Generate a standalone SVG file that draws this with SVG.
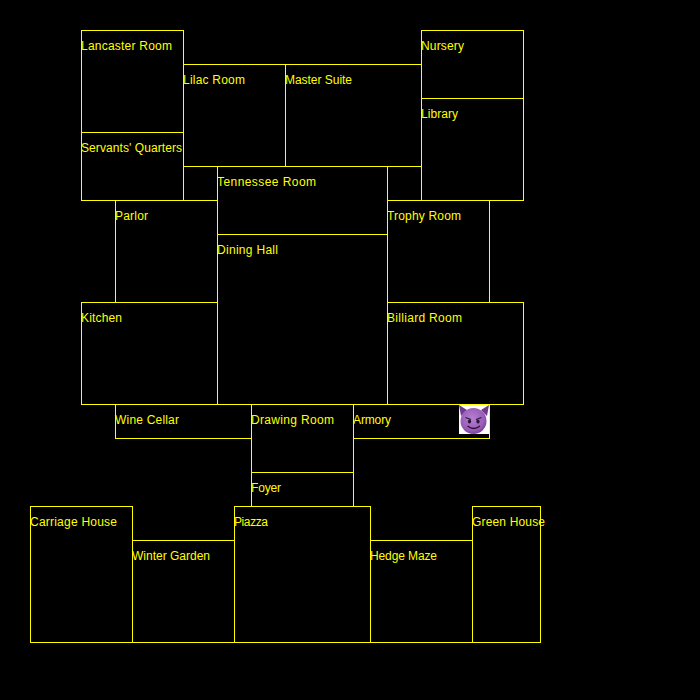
<svg xmlns="http://www.w3.org/2000/svg" width="700" height="700" viewBox="0 0 700 700">
<style>
rect.r{fill:none;stroke:#ffff00;stroke-width:1;shape-rendering:crispEdges}
text{fill:#ffff00;font-family:"Liberation Sans",Arial,sans-serif;font-size:12px}
</style>
<defs>
<radialGradient id="face" cx="0.45" cy="0.4" r="0.65"><stop offset="0" stop-color="#b57fd0"/><stop offset="0.7" stop-color="#9a5cb8"/><stop offset="1" stop-color="#6f3a8e"/></radialGradient>
</defs>
<rect width="700" height="700" fill="#000"/>
<g id="lancaster"><rect class="r" x="81.5" y="30.5" width="102" height="102"/><text x="81" y="50" textLength="91">Lancaster Room</text></g>
<g id="nursery"><rect class="r" x="421.5" y="30.5" width="102" height="68"/><text x="421" y="50" textLength="43">Nursery</text></g>
<g id="lilac"><rect class="r" x="183.5" y="64.5" width="102" height="102"/><text x="183" y="84" textLength="62">Lilac Room</text></g>
<g id="master"><rect class="r" x="285.5" y="64.5" width="136" height="102"/><text x="285" y="84" textLength="67">Master Suite</text></g>
<g id="library"><rect class="r" x="421.5" y="98.5" width="102" height="102"/><text x="421" y="118" textLength="37">Library</text></g>
<g id="servants"><rect class="r" x="81.5" y="132.5" width="102" height="68"/><text x="81" y="152" textLength="101">Servants' Quarters</text></g>
<g id="tennessee"><rect class="r" x="217.5" y="166.5" width="170" height="68"/><text x="217" y="186" textLength="99">Tennessee Room</text></g>
<g id="closet-west"><rect class="r" x="183.5" y="166.5" width="34" height="34"/></g>
<g id="closet-east"><rect class="r" x="387.5" y="166.5" width="34" height="34"/></g>
<g id="parlor"><rect class="r" x="115.5" y="200.5" width="102" height="102"/><text x="115" y="220" textLength="33">Parlor</text></g>
<g id="trophy"><rect class="r" x="387.5" y="200.5" width="102" height="102"/><text x="387" y="220" textLength="74">Trophy Room</text></g>
<g id="dining"><rect class="r" x="217.5" y="234.5" width="170" height="170"/><text x="217" y="254" textLength="61">Dining Hall</text></g>
<g id="kitchen"><rect class="r" x="81.5" y="302.5" width="136" height="102"/><text x="81" y="322" textLength="41">Kitchen</text></g>
<g id="billiard"><rect class="r" x="387.5" y="302.5" width="136" height="102"/><text x="387" y="322" textLength="75">Billiard Room</text></g>
<g id="wine"><rect class="r" x="115.5" y="404.5" width="136" height="34"/><text x="115" y="424" textLength="64">Wine Cellar</text></g>
<g id="drawing"><rect class="r" x="251.5" y="404.5" width="102" height="68"/><text x="251" y="424" textLength="83">Drawing Room</text></g>
<g id="armory"><rect class="r" x="353.5" y="404.5" width="136" height="34"/><text x="353" y="424" textLength="38">Armory</text></g>
<g id="foyer"><rect class="r" x="251.5" y="472.5" width="102" height="34"/><text x="251" y="492" textLength="30">Foyer</text></g>
<g id="carriage"><rect class="r" x="30.5" y="506.5" width="102" height="136"/><text x="30" y="526" textLength="87">Carriage House</text></g>
<g id="piazza"><rect class="r" x="234.5" y="506.5" width="136" height="136"/><text x="234" y="526" textLength="34">Piazza</text></g>
<g id="green"><rect class="r" x="472.5" y="506.5" width="68" height="136"/><text x="472" y="526" textLength="73">Green House</text></g>
<g id="winter"><rect class="r" x="132.5" y="540.5" width="102" height="102"/><text x="132" y="560" textLength="78">Winter Garden</text></g>
<g id="hedge"><rect class="r" x="370.5" y="540.5" width="102" height="102"/><text x="370" y="560" textLength="67">Hedge Maze</text></g>
<g id="monster">
<rect x="459" y="405" width="30" height="29" fill="#fff"/>
<path d="M459 405 L467 410 L461 416 Z M489 405 L481 410 L487 416 Z" fill="#6f3a8e"/>
<circle cx="473.5" cy="421" r="13" fill="url(#face)"/>
<ellipse cx="469.5" cy="421.5" rx="1.6" ry="2" fill="#2a1338"/>
<ellipse cx="478" cy="421.5" rx="1.6" ry="2" fill="#2a1338"/>
<path d="M465.5 417.5 L471 419.5 M481.5 417.5 L476 419.5" stroke="#2a1338" stroke-width="1.2" fill="none"/>
<path d="M467.5 426 Q473.7 431 480 426" stroke="#2a1338" stroke-width="1.3" fill="none"/>
</g>
</svg>
